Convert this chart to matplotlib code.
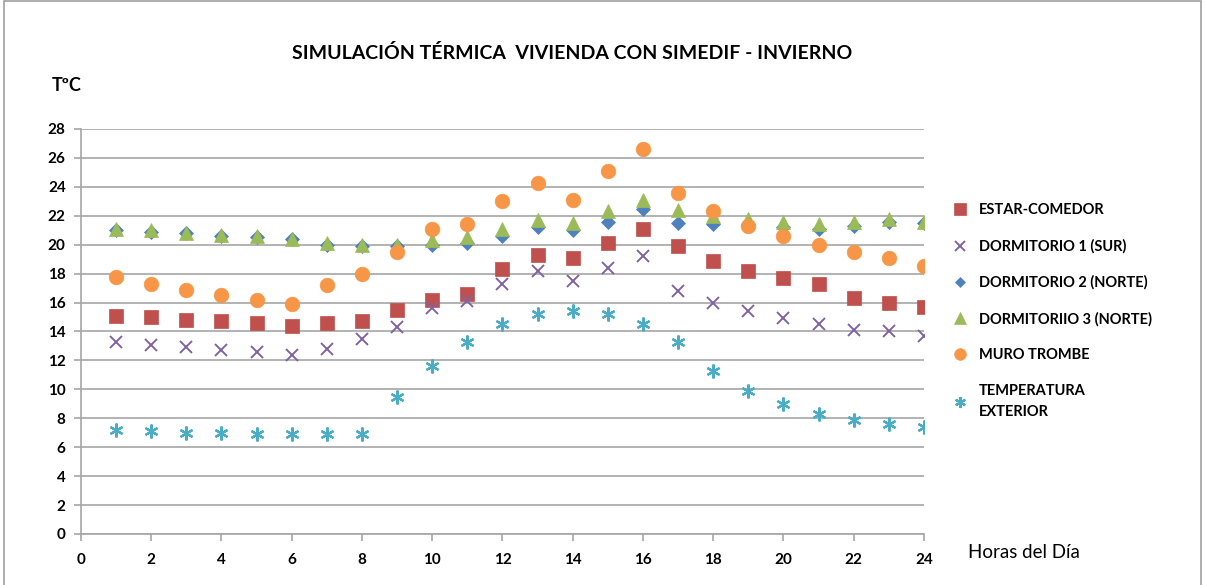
import matplotlib.pyplot as plt
from matplotlib.patches import Rectangle

plt.rcParams['font.family'] = ['Lato', 'DejaVu Sans']

# hours of the day
horas = list(range(1, 25))

estar_comedor = [15.1, 15.0, 14.8, 14.7, 14.6, 14.4, 14.6, 14.7, 15.5, 16.2, 16.6, 18.3,
                 19.3, 19.1, 20.1, 21.1, 19.9, 18.9, 18.2, 17.7, 17.3, 16.3, 16.0, 15.7]
dormitorio_1 = [13.3, 13.1, 12.9, 12.7, 12.6, 12.4, 12.8, 13.5, 14.3, 15.6, 16.1, 17.3,
                18.2, 17.5, 18.4, 19.2, 16.8, 16.0, 15.4, 14.9, 14.5, 14.1, 14.0, 13.7]
dormitorio_2 = [21.0, 20.9, 20.8, 20.6, 20.5, 20.4, 20.0, 19.9, 19.9, 20.0, 20.1, 20.6,
                21.2, 21.0, 21.6, 22.5, 21.5, 21.4, 21.4, 21.2, 21.1, 21.3, 21.6, 21.5]
dormitorio_3 = [21.1, 21.0, 20.8, 20.7, 20.6, 20.4, 20.1, 20.0, 20.0, 20.3, 20.5, 21.1,
                21.7, 21.5, 22.3, 23.1, 22.4, 22.0, 21.8, 21.6, 21.4, 21.6, 21.8, 21.6]
muro_trombe = [17.8, 17.3, 16.9, 16.5, 16.2, 15.9, 17.2, 18.0, 19.5, 21.1, 21.4, 23.0,
               24.3, 23.1, 25.1, 26.6, 23.6, 22.3, 21.3, 20.6, 20.0, 19.5, 19.1, 18.5]
temp_exterior = [7.2, 7.1, 7.0, 7.0, 6.9, 6.9, 6.9, 6.9, 9.5, 11.6, 13.3, 14.5,
                 15.2, 15.4, 15.2, 14.5, 13.3, 11.3, 9.9, 9.0, 8.3, 7.9, 7.6, 7.4]

x_ticks = list(range(0, 25, 2))
y_ticks = list(range(0, 29, 2))

fig = plt.figure(figsize=(12.05, 5.85), dpi=100)
ax = fig.add_axes([0.0672, 0.0872, 0.6996, 0.6923])

# series: (values, label, marker, color, size, edge width)
series = [
    (estar_comedor, 'ESTAR-COMEDOR', 's', '#C0504D', 10, 0.5),
    (dormitorio_1, 'DORMITORIO 1 (SUR)', 'x', '#8064A2', 9, 1.4),
    (dormitorio_2, 'DORMITORIO 2 (NORTE)', 'D', '#4F81BD', 7, 0.5),
    (dormitorio_3, 'DORMITORIIO 3 (NORTE)', '^', '#9BBB59', 10, 0.5),
    (muro_trombe, 'MURO TROMBE', 'o', '#F79646', 10.5, 0.5),
    (temp_exterior, 'TEMPERATURA\nEXTERIOR', (6, 2, 0), '#4BACC6', 10, 1.6),
]

handles = []
for vals, label, marker, color, size, mew in series:
    h, = ax.plot(horas, vals, linestyle='none', marker=marker, color=color,
                 markersize=size, markeredgewidth=mew,
                 markeredgecolor=color, label=label)
    handles.append(h)

ax.set_xlim(0, 24)
ax.set_ylim(0, 28)
ax.set_xticks(x_ticks)
ax.set_yticks(y_ticks)
ax.yaxis.grid(True, color='#A6A6A6', linewidth=1.2)
ax.set_axisbelow(True)
for s in ('top', 'right'):
    ax.spines[s].set_visible(False)
for s in ('left', 'bottom'):
    ax.spines[s].set_color('#A6A6A6')
    ax.spines[s].set_linewidth(1.2)
ax.tick_params(axis='both', direction='out', color='#A6A6A6', length=5, width=1.2,
               labelsize=11, pad=6)
for lab in ax.get_xticklabels() + ax.get_yticklabels():
    lab.set_fontweight('bold')
ax.tick_params(axis='x', pad=9)

fig.text(0.475, 0.91, 'SIMULACIÓN TÉRMICA  VIVIENDA CON SIMEDIF - INVIERNO',
         ha='center', va='center', fontsize=14, fontweight='bold')
fig.text(0.043, 0.853, 'TºC', ha='left', va='center', fontsize=13, fontweight='bold')
fig.text(0.803, 0.055, 'Horas del Día', ha='left', va='center', fontsize=13.5)

leg = fig.legend(handles=handles, loc='upper left', bbox_to_anchor=(0.781, 0.675),
                 frameon=False, prop={'weight': 'bold', 'size': 10.5},
                 labelspacing=1.5, handlelength=0.8, handletextpad=0.9, markerscale=0.8)
for t in leg.get_texts():
    t.set_linespacing(1.6)

fig.add_artist(Rectangle((0.003, -0.01), 0.994, 1.008, transform=fig.transFigure,
                         fill=False, edgecolor='#A0A0A0', linewidth=1.2))

fig.savefig('out.png', dpi=100)
